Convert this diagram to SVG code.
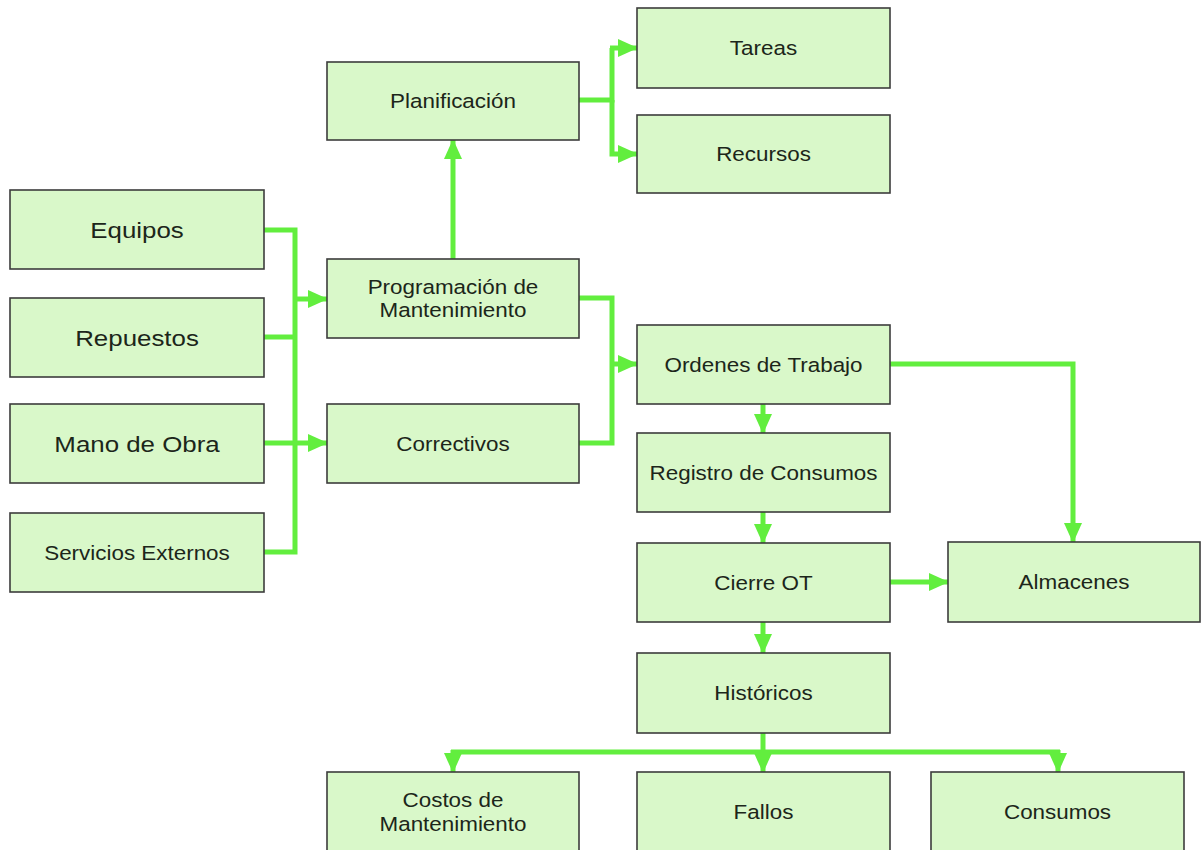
<svg xmlns="http://www.w3.org/2000/svg" width="1203" height="850" viewBox="0 0 1203 850">
<style>
.box{fill:#d9f8c9;stroke:#3c3c3c;stroke-width:1.6}
.t{font-family:"Liberation Sans",Arial,sans-serif;font-size:19.5px;fill:#1c261a;text-anchor:middle}
.big{font-size:22.5px}
.c{fill:none;stroke:#62ee3e;stroke-width:5;stroke-linejoin:miter}
.a{marker-end:url(#ah)}
</style>
<defs>
<marker id="ah" markerUnits="userSpaceOnUse" markerWidth="20" markerHeight="20" refX="19" refY="10" orient="auto">
<path d="M0,1 L20,10 L0,19 z" fill="#62ee3e"/>
</marker>
</defs>
<rect width="1203" height="850" fill="#ffffff"/>
<g id="connectors">
<path class="c" d="M264,230 H295 V552 H264"/>
<path class="c" d="M264,337 H295"/>
<path class="c a" d="M295,299 H327"/>
<path class="c a" d="M264,443 H327"/>
<path class="c a" d="M453,259 V140"/>
<path class="c" d="M579,100 H612 V48"/>
<path class="c a" d="M610,48 H637"/>
<path class="c a" d="M612,100 V154 H637"/>
<path class="c" d="M579,298 H612 V443 H579"/>
<path class="c a" d="M612,364 H637"/>
<path class="c a" d="M890,364 H1073 V542"/>
<path class="c a" d="M763,404 V433"/>
<path class="c a" d="M763,512 V543"/>
<path class="c a" d="M763,622 V653"/>
<path class="c a" d="M890,582 H948"/>
<path class="c" d="M763,733 V752"/>
<path class="c a" d="M763,752 V772"/>
<path class="c a" d="M453,750 V772"/>
<path class="c a" d="M1058,750 V772"/>
<path class="c" d="M451,752 H1060"/>
</g>
<g id="equipos"><rect class="box" x="10" y="190" width="254" height="79"/><text class="t big" transform="translate(137,237.5) scale(1.15,1)">Equipos</text></g>
<g id="repuestos"><rect class="box" x="10" y="298" width="254" height="79"/><text class="t big" transform="translate(137,345.5) scale(1.15,1)">Repuestos</text></g>
<g id="mano-de-obra"><rect class="box" x="10" y="404" width="254" height="79"/><text class="t big" transform="translate(137,451.5) scale(1.15,1)">Mano de Obra</text></g>
<g id="servicios-externos"><rect class="box" x="10" y="513" width="254" height="79"/><text class="t" transform="translate(137,559.5) scale(1.15,1)">Servicios Externos</text></g>
<g id="planificacion"><rect class="box" x="327" y="62" width="252" height="78"/><text class="t" transform="translate(453,108) scale(1.15,1)">Planificación</text></g>
<g id="programacion"><rect class="box" x="327" y="259" width="252" height="79"/><text class="t" transform="translate(453,293.5) scale(1.15,1)">Programación de</text><text class="t" transform="translate(453,317) scale(1.15,1)">Mantenimiento</text></g>
<g id="correctivos"><rect class="box" x="327" y="404" width="252" height="79"/><text class="t" transform="translate(453,450.5) scale(1.15,1)">Correctivos</text></g>
<g id="tareas"><rect class="box" x="637" y="8" width="253" height="80"/><text class="t" transform="translate(763.5,55) scale(1.15,1)">Tareas</text></g>
<g id="recursos"><rect class="box" x="637" y="115" width="253" height="78"/><text class="t" transform="translate(763.5,161) scale(1.15,1)">Recursos</text></g>
<g id="ordenes-de-trabajo"><rect class="box" x="637" y="325" width="253" height="79"/><text class="t" transform="translate(763.5,371.5) scale(1.15,1)">Ordenes de Trabajo</text></g>
<g id="registro-de-consumos"><rect class="box" x="637" y="433" width="253" height="79"/><text class="t" transform="translate(763.5,479.5) scale(1.15,1)">Registro de Consumos</text></g>
<g id="cierre-ot"><rect class="box" x="637" y="543" width="253" height="79"/><text class="t" transform="translate(763.5,589.5) scale(1.15,1)">Cierre OT</text></g>
<g id="historicos"><rect class="box" x="637" y="653" width="253" height="80"/><text class="t" transform="translate(763.5,700) scale(1.15,1)">Históricos</text></g>
<g id="almacenes"><rect class="box" x="948" y="542" width="252" height="80"/><text class="t" transform="translate(1074,589) scale(1.15,1)">Almacenes</text></g>
<g id="costos-de-mantenimiento"><rect class="box" x="327" y="772" width="252" height="80"/><text class="t" transform="translate(453,807) scale(1.15,1)">Costos de</text><text class="t" transform="translate(453,830.5) scale(1.15,1)">Mantenimiento</text></g>
<g id="fallos"><rect class="box" x="637" y="772" width="253" height="80"/><text class="t" transform="translate(763.5,818.5) scale(1.15,1)">Fallos</text></g>
<g id="consumos"><rect class="box" x="931" y="772" width="253" height="80"/><text class="t" transform="translate(1057.5,818.5) scale(1.15,1)">Consumos</text></g>
</svg>
